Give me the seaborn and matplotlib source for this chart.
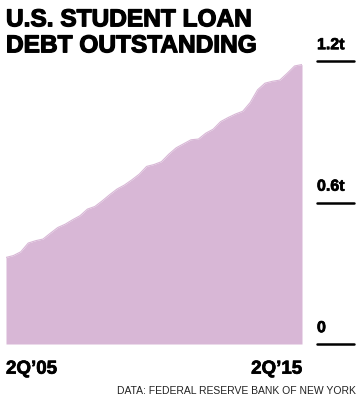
import matplotlib
matplotlib.use("Agg")
import matplotlib.pyplot as plt
import matplotlib.patheffects as pe
import seaborn as sns
import numpy as np
import pandas as pd

# ---- data (trillions USD), quarterly 2Q'05 .. 2Q'15 ----
quarter_index = list(range(41))
debt_trillions = [
    0.367, 0.375, 0.391, 0.428, 0.438, 0.445, 0.470, 0.494, 0.508, 0.527,
    0.544, 0.572, 0.583, 0.607, 0.633, 0.657, 0.674, 0.696, 0.720, 0.753,
    0.761, 0.773, 0.805, 0.832, 0.849, 0.866, 0.869, 0.894, 0.911, 0.943,
    0.960, 0.975, 0.987, 1.024, 1.078, 1.106, 1.114, 1.119, 1.148, 1.179,
    1.185,
]
x_tick_pos = [0, 40]
x_tick_labels = ["2Q\u201905", "2Q\u201915"]
y_tick_vals = [0, 0.6, 1.2]
y_tick_labels = ["0", "0.6t", "1.2t"]
title_lines = ["U.S. STUDENT LOAN", "DEBT OUTSTANDING"]
source_text = "DATA: FEDERAL RESERVE BANK OF NEW YORK"

df = pd.DataFrame({"q": quarter_index, "debt": debt_trillions})

sns.set_theme(style="white")
plt.rcParams["font.family"] = ["Liberation Sans", "DejaVu Sans"]

W, H = 360, 402
fig = plt.figure(figsize=(W / 100, H / 100), dpi=100)

def fx(px):
    return px / W

def fy(px):
    return 1 - px / H

area_color = "#D8B7D6"
heavy = [pe.withStroke(linewidth=0.9, foreground="black")]
semi = [pe.withStroke(linewidth=0.5, foreground="black")]

# main area axes: x 6..302 px, y 62..345 px
ax = fig.add_axes([fx(6), fy(345), fx(302) - fx(6), (345 - 62) / H])
sns.lineplot(data=df, x="q", y="debt", ax=ax, color=area_color, linewidth=0.8)
ax.fill_between(df["q"], 0, df["debt"], color=area_color, linewidth=0)
ax.set_xlim(0, 40)
ax.set_ylim(0, 1.2)
ax.set_xlabel("")
ax.set_ylabel("")
for s in ax.spines.values():
    s.set_visible(False)
ax.set_yticks([])
ax.set_xticks(x_tick_pos)
ax.set_xticklabels(x_tick_labels, fontsize=13.5, fontweight="bold", color="black")
ax.tick_params(axis="x", length=0, pad=12)
labs = ax.get_xticklabels()
labs[0].set_horizontalalignment("left")
labs[-1].set_horizontalalignment("right")
for l in labs:
    l.set_path_effects(semi)
ax.patch.set_alpha(0)

# tick column axes on the right: x 317..354 px
tax = fig.add_axes([fx(317), fy(345), fx(354) - fx(317), (345 - 62) / H])
tax.set_xlim(0, 1)
tax.set_ylim(0, 1.2)
tax.axis("off")
for v, lab in zip(y_tick_vals, y_tick_labels):
    tax.axhline(v, color="black", linewidth=1.8, clip_on=False)
    tax.annotate(lab, xy=(0, v), xytext=(0, 8.5), textcoords="offset points",
                 ha="left", va="baseline", fontsize=11.5, fontweight="bold",
                 color="black", annotation_clip=False, path_effects=semi)

# title
for i, line in enumerate(title_lines):
    fig.text(fx(6), fy(27.3 + 26 * i), line, fontsize=17.6, fontweight="heavy",
             ha="left", va="baseline", color="black", path_effects=heavy)

# source
fig.text(fx(356), fy(394), source_text, fontsize=7.5, ha="right",
         va="baseline", color="#222222")

fig.savefig("out.png", dpi=100)
